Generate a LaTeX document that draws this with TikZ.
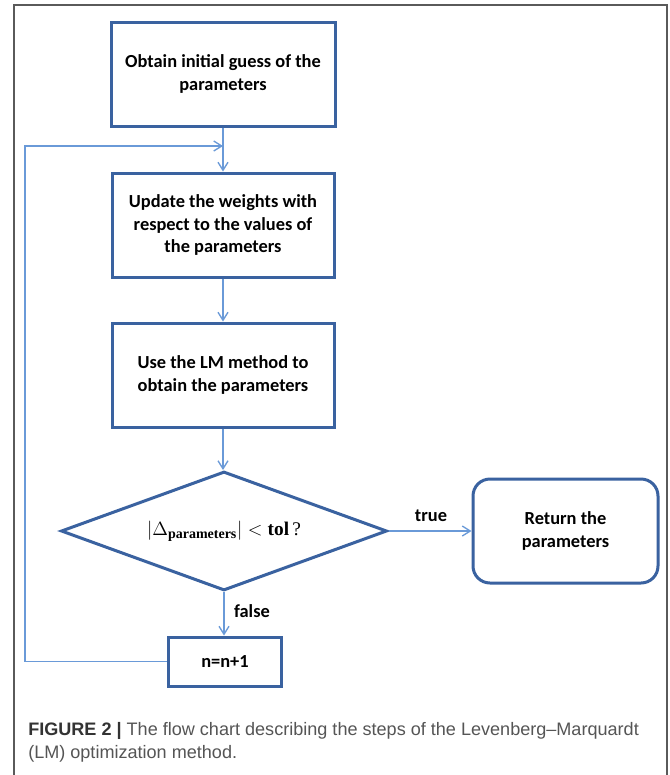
\documentclass[tikz,border=0pt]{standalone}
\usepackage[no-math]{fontspec}
\setmainfont{Liberation Sans}
\newfontfamily\boxfont{Carlito}
\newfontfamily\mserif{Liberation Serif}
\usetikzlibrary{shapes.geometric,arrows.meta}
\definecolor{boxblue}{HTML}{3A62A0}
\definecolor{arrblue}{HTML}{6A9AD8}
\definecolor{framegray}{HTML}{5A5A5A}
\definecolor{capdark}{HTML}{333333}
\definecolor{captext}{HTML}{555555}
\begin{document}
\begin{tikzpicture}[x=0.75pt,y=-0.75pt,
  procbox/.style={draw=boxblue, line width=2.25pt, rectangle, align=center,
    font=\boxfont\bfseries\fontsize{13.8}{17}\selectfont, inner sep=0pt},
  decbox/.style={draw=boxblue, line width=2.25pt, diamond, aspect=2.74, inner sep=0pt,
    minimum width=244.5pt, minimum height=89.25pt, font=\fontsize{14.5}{17}\selectfont},
  lbl/.style={font=\boxfont\bfseries\fontsize{13.8}{17}\selectfont, inner sep=0pt},
  arr/.style={draw=arrblue, line width=1pt, -{Straight Barb[length=6pt,width=7.5pt]}},
  captionline/.style={anchor=base west, inner sep=0pt, font=\fontsize{13.55}{18}\selectfont}
]
\useasboundingbox (0,0) rectangle (669,775);
\fill[white] (0,0) rectangle (669,775);
\draw[framegray, line width=1.1pt] (14,775) -- (14,5) -- (667,5) -- (667,775);

\node[procbox, minimum width=168pt, minimum height=78pt] (init) at (223,74)
  {Obtain initial guess of the\\parameters};
\node[procbox, minimum width=166.5pt, minimum height=78pt] (upd) at (223,225)
  {Update the weights with\\respect to the values of\\the parameters};
\node[procbox, minimum width=166.5pt, minimum height=78pt] (lm) at (223,375)
  {Use the LM method to\\obtain the parameters};
\node[decbox] (dec) at (224,531)
  {$|\Delta_{\hbox{\mserif\bfseries\fontsize{10.5}{12}\selectfont parameters}}| < \hbox{\mserif\bfseries tol}\,$\mserif ?};
\node[procbox, rounded corners=12.75pt, minimum width=138.75pt, minimum height=78pt] (ret) at (565.5,531)
  {Return the\\parameters};
\node[procbox, minimum width=84.75pt, minimum height=36.75pt] (inc) at (225,661.5)
  {n=n+1};

\coordinate (loopcorner) at (25,146);

\draw[arr] (init.south) -- (upd.north);
\draw[arr] (upd.south) -- (lm.north);
\draw[arr] (lm.south) -- (lm.south |- dec.north);
\draw[arr] (dec.east) -- (ret.west);
\draw[arr] (dec.south) -- (dec.south |- inc.north);
\draw[arr] (inc.west) -| (loopcorner) -- (init.south |- loopcorner);

\node[lbl] (truelbl) at (431,516) {true};
\node[lbl] (falselbl) at (252,611) {false};

\node[captionline] (cap1) at (28,735) {\textcolor{capdark}{\bfseries FIGURE 2 |} \textcolor{captext}{The flow chart describing the steps of the Levenberg–Marquardt}};
\node[captionline] (cap2) at (28,758.5) {\textcolor{captext}{(LM) optimization method.}};
\end{tikzpicture}
\end{document}
